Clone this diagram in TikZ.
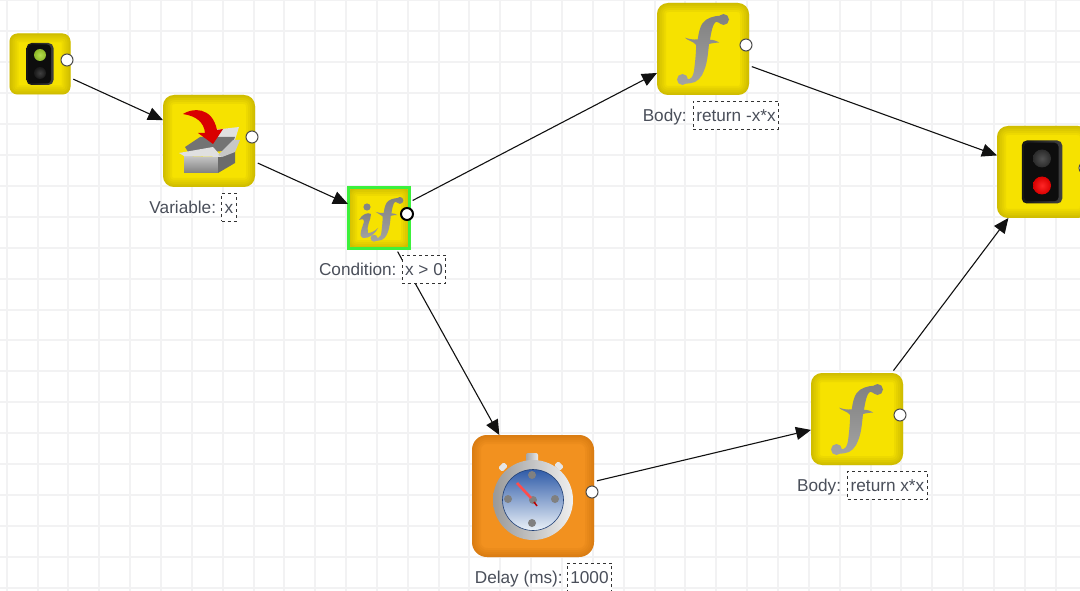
\documentclass[tikz,border=0pt]{standalone}
\usepackage{fontspec}
\setmainfont{Liberation Sans}
\usetikzlibrary{arrows.meta}
\usetikzlibrary{positioning}

\definecolor{gridcol}{HTML}{F2F2F3}
\definecolor{captioncol}{HTML}{4A4F5A}
\definecolor{yellowmain}{HTML}{F6E200}
\definecolor{yellowedge}{HTML}{8A7A00}
\definecolor{orangemain}{HTML}{F2911F}
\definecolor{orangeedge}{HTML}{B05A00}
\definecolor{wirecol}{HTML}{111111}
\definecolor{dialtop}{HTML}{2F5BA8}
\definecolor{dialmid}{HTML}{7FA6D0}
\definecolor{dialbottom}{HTML}{EAF1F8}
\definecolor{limegreen}{HTML}{A6D82E}
\definecolor{selectgreen}{HTML}{3CF03C}
\definecolor{lampoffsmall}{HTML}{1E1E1E}
\definecolor{lampofflarge}{HTML}{333333}

\tikzset{
	blockshade/.style={path picture={
		\foreach \w in {18,14,10,6,3}
			\draw[#1, opacity=0.08, line width=\w pt]
				(path picture bounding box.south west) rectangle (path picture bounding box.north east);
	}},
	yellowblock/.style={fill=yellowmain, rounded corners=11pt, minimum size=#1, inner sep=0pt, outer sep=0pt, blockshade=yellowedge},
	orangeblock/.style={fill=orangemain, rounded corners=15pt, minimum size=#1, inner sep=0pt, outer sep=0pt, blockshade=orangeedge},
	portdot/.style={circle, draw=black!70, fill=white, line width=1pt, minimum size=12pt, inner sep=0pt},
	wire/.style={draw=wirecol, line width=1.1pt, shorten <=3pt, -{Triangle[length=15pt,width=13pt]}},
	caption/.style={text=captioncol, inner sep=0pt, text height=14pt, text depth=1.5pt, font=\fontsize{17.2}{20}\selectfont},
	valbox/.style={caption, draw=black!80, dashed, line width=0.8pt, fill=white, minimum height=28pt, inner xsep=3pt},
	pics/fglyph/.style={code={
		\shade[top color=black!50, bottom color=black!36]
			(17,-33.3) .. controls (21,-34.5) and (24,-33) .. (25,-31)
			-- (18.7,-25)
			.. controls (16,-26) and (15,-27) .. (13,-27.3)
			.. controls (10,-26) and (8,-16) .. (7,-9)
			.. controls (10,-9.5) and (14,-8) .. (16.3,-6.3)
			.. controls (12,-6.5) and (8,-5.5) .. (6,-5)
			.. controls (5,4) and (4.5,13) .. (1.3,21)
			.. controls (-1,28) and (-6,34) .. (-13,34.3)
			-- (-20,35) -- (-21.3,26)
			.. controls (-18,26) and (-17,30) .. (-14,30.3)
			.. controls (-10,29) and (-9,24) .. (-8.5,17.7)
			.. controls (-7.5,10) and (-7,3) .. (-6.8,-4)
			.. controls (-10,-8) and (-15,-8) .. (-18,-11.3)
			.. controls (-14,-10) and (-9,-9) .. (-5.2,-9.7)
			.. controls (-4.5,-16) and (-3,-22) .. (-0.5,-25.7)
			.. controls (3,-31) and (11,-33) .. (17,-33.3) -- cycle
			(20.5,-29.5) circle (5.5)
			(-20.5,30.5) circle (5.5);
	}},
	pics/lamp/.style 2 args={code={
		\shade[left color=black!92, right color=black!75, rounded corners=5pt] (-13.5,-21) rectangle (13.5,21);
		\fill[black!95, rounded corners=4pt] (-12,-19.5) rectangle (11,19.5);
		\shade[inner color=#1!85!white, outer color=#1!85!black] (0,-9) circle (6);
		\shade[inner color=#2!85!white, outer color=#2!85!black] (0,9) circle (6);
	}}
}

\begin{document}
\begin{tikzpicture}[x=1pt, y=-1pt]
	\useasboundingbox (0,0) rectangle (1080,591);
	\fill[white] (0,0) rectangle (1080,591);

	% grid lines
	\foreach \x in {0,...,34}
		\draw[gridcol, line width=2pt] ({6.7+30.85*\x},0) -- ({6.7+30.85*\x},591);
	\foreach \y in {0,...,19}
		\draw[gridcol, line width=2pt] (0,{0.5+30.9*\y}) -- (1080,{0.5+30.9*\y});

	% blocks
	\node[yellowblock=61pt, rounded corners=8pt] (start) at (40,64) {};
	\node[yellowblock=92pt] (var) at (209,141) {};
	\fill[yellowedge!30!yellowmain] (347,186) rectangle (411,250);
	\node[yellowblock=62pt, rounded corners=9pt] (ifblock) at (379,218) {};
	\draw[selectgreen, line width=2.6pt] (348.3,187.3) rectangle (409.7,248.7);
	\node[yellowblock=92pt] (bodyneg) at (703,49) {};
	\node[orangeblock=122pt] (delay) at (533,496) {};
	\node[yellowblock=92pt] (bodypos) at (857,419) {};
	\node[yellowblock=92pt] (stop) at (1043,172) {};

	% connectors
	\draw[wire] (start) -- (var);
	\draw[wire] (var) -- (ifblock);
	\draw[wire] (ifblock) -- (bodyneg);
	\draw[wire] (ifblock) -- (delay);
	\draw[wire] (delay) -- (bodypos);
	\draw[wire] (bodyneg) -- (stop);
	\draw[wire] (bodypos) -- (stop);

	% icons
	\pic at (40,64) {lamp={limegreen}{lampoffsmall}};
	\pic[scale=1.5] at (1042,172) {lamp={lampofflarge}{red}};
	\pic at (703,49) {fglyph};
	\pic at (857,419) {fglyph};
	\pic[scale=0.63] at (387,219) {fglyph};
	\shade[top color=black!50, bottom color=black!36] (359,220) .. controls (362,214) and (368,212) .. (371,214)
		.. controls (371,220) and (366,226) .. (368,233) .. controls (371,233) and (375,231) .. (378,228)
		.. controls (376,233) and (369,239) .. (363,238) .. controls (358,237) and (362,228) .. (364,222)
		.. controls (364,218) and (361,219) .. (359,220) -- cycle;
	\fill[black!48] (367,207) circle (3.6);

	% crate
	\fill[black!12] (213,130) -- (239,127) -- (235,140) -- (213,143) -- cycle;
	\fill[black!55] (185,147) -- (200,137) -- (235,137) -- (230,150) -- (190,155) -- cycle;
	\shade[top color=black!22, bottom color=black!50] (184,156) -- (218,157) -- (218,173) -- (184,173) -- cycle;
	\fill[black!58] (218,157) -- (235,148) -- (235,163) -- (218,173) -- cycle;
	\fill[black!12] (179,153) -- (213,147) -- (222,157) -- (184,156) -- cycle;
	\fill[black!22] (233,140) -- (240,140) -- (235,152) -- (222,157) -- (218,155) -- cycle;
	\fill[red!85!black] (183,114) .. controls (192,108) and (212,106) .. (217,130) -- (223,129) -- (213,144) -- (198,133) -- (205,133)
		.. controls (204,122) and (196,116) .. (183,114) -- cycle;

	% stopwatch
	\shade[left color=black!35, right color=black!8, rounded corners=2pt] (526,453) rectangle (538,463);
	\fill[black!10, rotate around={-45:(503,467)}, rounded corners=1.5pt] (500,463) rectangle (506,471);
	\fill[black!10, rotate around={45:(559,466)}, rounded corners=1.5pt] (556,462) rectangle (562,470);
	\shade[left color=black!40, right color=black!6] (533,500) circle (40);
	\shade[top color=dialtop, middle color=dialmid, bottom color=dialbottom] (533,500) circle (30.5);
	\draw[dialtop!70!black, line width=0.6pt] (533,500) circle (30.5);
	\foreach \dx/\dy in {532/475, 508/499, 555/499, 532/523, 533/500}
		\fill[black!50] (\dx,\dy) circle (4);
	\draw[red!70!white, line width=2.6pt] (517,483) -- (531,498);
	\draw[red!75!black, line width=1.5pt] (534,502) -- (537,506);

	% ports
	\node[portdot] (startout) at (67,60) {};
	\node[portdot] (varout) at (252,137) {};
	\node[portdot, line width=2pt, draw=black] (ifout) at (407,214) {};
	\node[portdot] (bodynegout) at (746,45) {};
	\node[portdot] (delayout) at (592,492) {};
	\node[portdot] (bodyposout) at (900,415) {};
	\node[portdot] (stopout) at (1085,168) {};

	% labels
	\node[valbox] (varval) at (229,207) {x};
	\node[caption, left=5pt of varval] (varcap) {Variable:};
	\node[valbox] (ifval) at (424,269) {x > 0};
	\node[caption, left=5pt of ifval] (ifcap) {Condition:};
	\node[valbox] (negval) at (736,115) {return -x*x};
	\node[caption, left=6pt of negval] (negcap) {Body:};
	\node[valbox] (delayval) at (589.5,577) {1000};
	\node[caption, left=4pt of delayval] (delaycap) {Delay (ms):};
	\node[valbox] (posval) at (887.5,485) {return x*x};
	\node[caption, left=6pt of posval] (poscap) {Body:};
\end{tikzpicture}
\end{document}
